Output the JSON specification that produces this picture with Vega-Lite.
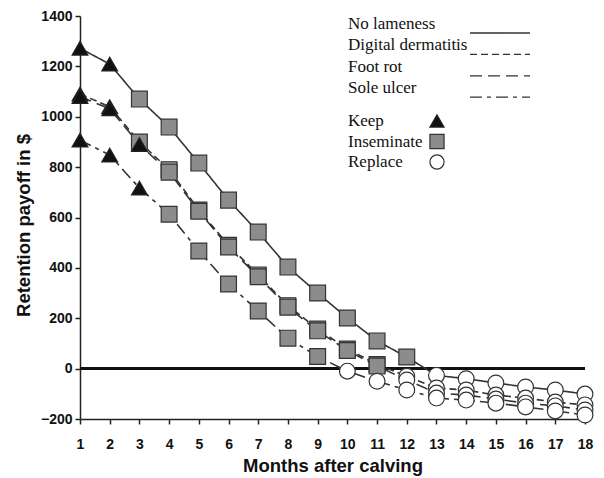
{
  "$schema": "https://vega.github.io/schema/vega-lite/v6.json",
  "width": 505,
  "height": 403,
  "autosize": "none",
  "padding": {"left": 80, "top": 16, "right": 19, "bottom": 59},
  "background": "white",
  "config": {"view": {"stroke": null}},
  "data": {
    "values": [
      {"disease": "No lameness", "month": 1, "payoff": 1272, "decision": "Keep"},
      {"disease": "No lameness", "month": 2, "payoff": 1209, "decision": "Keep"},
      {"disease": "No lameness", "month": 3, "payoff": 1070, "decision": "Inseminate"},
      {"disease": "No lameness", "month": 4, "payoff": 959, "decision": "Inseminate"},
      {"disease": "No lameness", "month": 5, "payoff": 816, "decision": "Inseminate"},
      {"disease": "No lameness", "month": 6, "payoff": 669, "decision": "Inseminate"},
      {"disease": "No lameness", "month": 7, "payoff": 542, "decision": "Inseminate"},
      {"disease": "No lameness", "month": 8, "payoff": 403, "decision": "Inseminate"},
      {"disease": "No lameness", "month": 9, "payoff": 300, "decision": "Inseminate"},
      {"disease": "No lameness", "month": 10, "payoff": 201, "decision": "Inseminate"},
      {"disease": "No lameness", "month": 11, "payoff": 110, "decision": "Inseminate"},
      {"disease": "No lameness", "month": 12, "payoff": 46, "decision": "Inseminate"},
      {"disease": "No lameness", "month": 13, "payoff": -27, "decision": "Replace"},
      {"disease": "No lameness", "month": 14, "payoff": -40, "decision": "Replace"},
      {"disease": "No lameness", "month": 15, "payoff": -57, "decision": "Replace"},
      {"disease": "No lameness", "month": 16, "payoff": -73, "decision": "Replace"},
      {"disease": "No lameness", "month": 17, "payoff": -85, "decision": "Replace"},
      {"disease": "No lameness", "month": 18, "payoff": -101, "decision": "Replace"},
      {"disease": "Digital dermatitis", "month": 1, "payoff": 1090, "decision": "Keep"},
      {"disease": "Digital dermatitis", "month": 2, "payoff": 1040, "decision": "Keep"},
      {"disease": "Digital dermatitis", "month": 3, "payoff": 900, "decision": "Inseminate"},
      {"disease": "Digital dermatitis", "month": 4, "payoff": 790, "decision": "Inseminate"},
      {"disease": "Digital dermatitis", "month": 5, "payoff": 630, "decision": "Inseminate"},
      {"disease": "Digital dermatitis", "month": 6, "payoff": 490, "decision": "Inseminate"},
      {"disease": "Digital dermatitis", "month": 7, "payoff": 372, "decision": "Inseminate"},
      {"disease": "Digital dermatitis", "month": 8, "payoff": 250, "decision": "Inseminate"},
      {"disease": "Digital dermatitis", "month": 9, "payoff": 157, "decision": "Inseminate"},
      {"disease": "Digital dermatitis", "month": 10, "payoff": 78, "decision": "Inseminate"},
      {"disease": "Digital dermatitis", "month": 11, "payoff": 16, "decision": "Inseminate"},
      {"disease": "Digital dermatitis", "month": 12, "payoff": -30, "decision": "Replace"},
      {"disease": "Digital dermatitis", "month": 13, "payoff": -77, "decision": "Replace"},
      {"disease": "Digital dermatitis", "month": 14, "payoff": -85, "decision": "Replace"},
      {"disease": "Digital dermatitis", "month": 15, "payoff": -105, "decision": "Replace"},
      {"disease": "Digital dermatitis", "month": 16, "payoff": -117, "decision": "Replace"},
      {"disease": "Digital dermatitis", "month": 17, "payoff": -133, "decision": "Replace"},
      {"disease": "Digital dermatitis", "month": 18, "payoff": -144, "decision": "Replace"},
      {"disease": "Foot rot", "month": 1, "payoff": 1080, "decision": "Keep"},
      {"disease": "Foot rot", "month": 2, "payoff": 1032, "decision": "Keep"},
      {"disease": "Foot rot", "month": 3, "payoff": 890, "decision": "Keep"},
      {"disease": "Foot rot", "month": 4, "payoff": 780, "decision": "Inseminate"},
      {"disease": "Foot rot", "month": 5, "payoff": 625, "decision": "Inseminate"},
      {"disease": "Foot rot", "month": 6, "payoff": 483, "decision": "Inseminate"},
      {"disease": "Foot rot", "month": 7, "payoff": 365, "decision": "Inseminate"},
      {"disease": "Foot rot", "month": 8, "payoff": 244, "decision": "Inseminate"},
      {"disease": "Foot rot", "month": 9, "payoff": 150, "decision": "Inseminate"},
      {"disease": "Foot rot", "month": 10, "payoff": 72, "decision": "Inseminate"},
      {"disease": "Foot rot", "month": 11, "payoff": 10, "decision": "Inseminate"},
      {"disease": "Foot rot", "month": 12, "payoff": -45, "decision": "Replace"},
      {"disease": "Foot rot", "month": 13, "payoff": -97, "decision": "Replace"},
      {"disease": "Foot rot", "month": 14, "payoff": -105, "decision": "Replace"},
      {"disease": "Foot rot", "month": 15, "payoff": -121, "decision": "Replace"},
      {"disease": "Foot rot", "month": 16, "payoff": -137, "decision": "Replace"},
      {"disease": "Foot rot", "month": 17, "payoff": -148, "decision": "Replace"},
      {"disease": "Foot rot", "month": 18, "payoff": -164, "decision": "Replace"},
      {"disease": "Sole ulcer", "month": 1, "payoff": 907, "decision": "Keep"},
      {"disease": "Sole ulcer", "month": 2, "payoff": 848, "decision": "Keep"},
      {"disease": "Sole ulcer", "month": 3, "payoff": 717, "decision": "Keep"},
      {"disease": "Sole ulcer", "month": 4, "payoff": 613, "decision": "Inseminate"},
      {"disease": "Sole ulcer", "month": 5, "payoff": 467, "decision": "Inseminate"},
      {"disease": "Sole ulcer", "month": 6, "payoff": 336, "decision": "Inseminate"},
      {"disease": "Sole ulcer", "month": 7, "payoff": 229, "decision": "Inseminate"},
      {"disease": "Sole ulcer", "month": 8, "payoff": 121, "decision": "Inseminate"},
      {"disease": "Sole ulcer", "month": 9, "payoff": 48, "decision": "Inseminate"},
      {"disease": "Sole ulcer", "month": 10, "payoff": -10, "decision": "Replace"},
      {"disease": "Sole ulcer", "month": 11, "payoff": -50, "decision": "Replace"},
      {"disease": "Sole ulcer", "month": 12, "payoff": -85, "decision": "Replace"},
      {"disease": "Sole ulcer", "month": 13, "payoff": -117, "decision": "Replace"},
      {"disease": "Sole ulcer", "month": 14, "payoff": -125, "decision": "Replace"},
      {"disease": "Sole ulcer", "month": 15, "payoff": -137, "decision": "Replace"},
      {"disease": "Sole ulcer", "month": 16, "payoff": -152, "decision": "Replace"},
      {"disease": "Sole ulcer", "month": 17, "payoff": -168, "decision": "Replace"},
      {"disease": "Sole ulcer", "month": 18, "payoff": -184, "decision": "Replace"}
    ]
  },
  "encoding": {
    "x": {
      "field": "month", "type": "quantitative",
      "scale": {"domain": [1, 18], "nice": false, "zero": false},
      "axis": {
        "values": [1,2,3,4,5,6,7,8,9,10,11,12,13,14,15,16,17,18],
        "format": "d", "title": "Months after calving", "grid": false,
        "domainColor": "#222", "domainWidth": 1.5, "tickColor": "#222", "tickWidth": 1.5, "tickSize": 5,
        "labelFont": "Liberation Sans", "labelFontWeight": "bold", "labelFontSize": 14, "labelColor": "#111",
        "labelPadding": 13, "labelFlush": false,
        "titleFont": "Liberation Sans", "titleFontWeight": "bold", "titleFontSize": 18.5, "titleColor": "#111", "titlePadding": 5
      }
    },
    "y": {
      "field": "payoff", "type": "quantitative",
      "scale": {"domain": [-200, 1400], "nice": false},
      "axis": {
        "values": [-200, 0, 200, 400, 600, 800, 1000, 1200, 1400],
        "format": "d", "title": "Retention payoff in $", "grid": false,
        "domainColor": "#222", "domainWidth": 1.5, "tickColor": "#222", "tickWidth": 1.5, "tickSize": 5,
        "labelFont": "Liberation Sans", "labelFontWeight": "bold", "labelFontSize": 14, "labelColor": "#111",
        "labelPadding": 3,
        "titleFont": "Liberation Sans", "titleFontWeight": "bold", "titleFontSize": 18.5, "titleColor": "#111", "titlePadding": 7,
        "titleY": 209
      }
    }
  },
  "layer": [
    {
      "mark": {"type": "rule", "color": "#111", "strokeWidth": 2},
      "encoding": {"x": null, "y": {"datum": 0, "type": "quantitative"}}
    },
    {
      "mark": {"type": "line", "color": "#333", "strokeWidth": 1.6},
      "encoding": {
        "strokeDash": {
          "field": "disease", "type": "nominal",
          "scale": {"domain": ["No lameness", "Digital dermatitis", "Foot rot", "Sole ulcer"], "range": [[1, 0], [7, 4], [12, 6], [12, 5, 4, 5]]},
          "legend": {
            "title": null, "orient": "none", "legendX": 409, "legendY": 6,
            "symbolType": "M-3,0H3", "symbolSize": 400, "symbolStrokeWidth": 1.3, "symbolStrokeColor": "#333",
            "symbolFillColor": "transparent",
            "labelOffset": -163, "labelBaseline": "bottom",
            "labelFont": "Liberation Serif", "labelFontSize": 17, "labelColor": "#111", "labelLimit": 300,
            "rowPadding": 0.4, "padding": 0
          }
        }
      }
    },
    {
      "mark": {"type": "point", "filled": true, "size": 250, "strokeWidth": 1.2, "opacity": 1},
      "encoding": {
        "shape": {
          "field": "decision", "type": "nominal",
          "scale": {"domain": ["Keep", "Inseminate", "Replace"], "range": ["triangle-up", "square", "circle"]},
          "legend": {
            "title": null, "orient": "none", "legendX": 348.5, "legendY": 96.5,
            "symbolSize": 200, "symbolStrokeWidth": 1.2,
            "labelOffset": -97.5,
            "labelFont": "Liberation Serif", "labelFontSize": 17, "labelColor": "#111", "labelLimit": 300,
            "rowPadding": 1.5, "padding": 0
          }
        },
        "fill": {
          "field": "decision", "type": "nominal",
          "scale": {"domain": ["Keep", "Inseminate", "Replace"], "range": ["#111111", "#8c8c8c", "#ffffff"]},
          "legend": {
            "title": null, "orient": "none", "legendX": 348.5, "legendY": 96.5,
            "symbolSize": 200, "symbolStrokeWidth": 1.2,
            "labelOffset": -97.5,
            "labelFont": "Liberation Serif", "labelFontSize": 17, "labelColor": "#111", "labelLimit": 300,
            "rowPadding": 1.5, "padding": 0
          }
        },
        "stroke": {
          "field": "decision", "type": "nominal",
          "scale": {"domain": ["Keep", "Inseminate", "Replace"], "range": ["#222222", "#333333", "#333333"]},
          "legend": {
            "title": null, "orient": "none", "legendX": 348.5, "legendY": 96.5,
            "symbolSize": 200, "symbolStrokeWidth": 1.2,
            "labelOffset": -97.5,
            "labelFont": "Liberation Serif", "labelFontSize": 17, "labelColor": "#111", "labelLimit": 300,
            "rowPadding": 1.5, "padding": 0
          }
        }
      }
    }
  ]
}
